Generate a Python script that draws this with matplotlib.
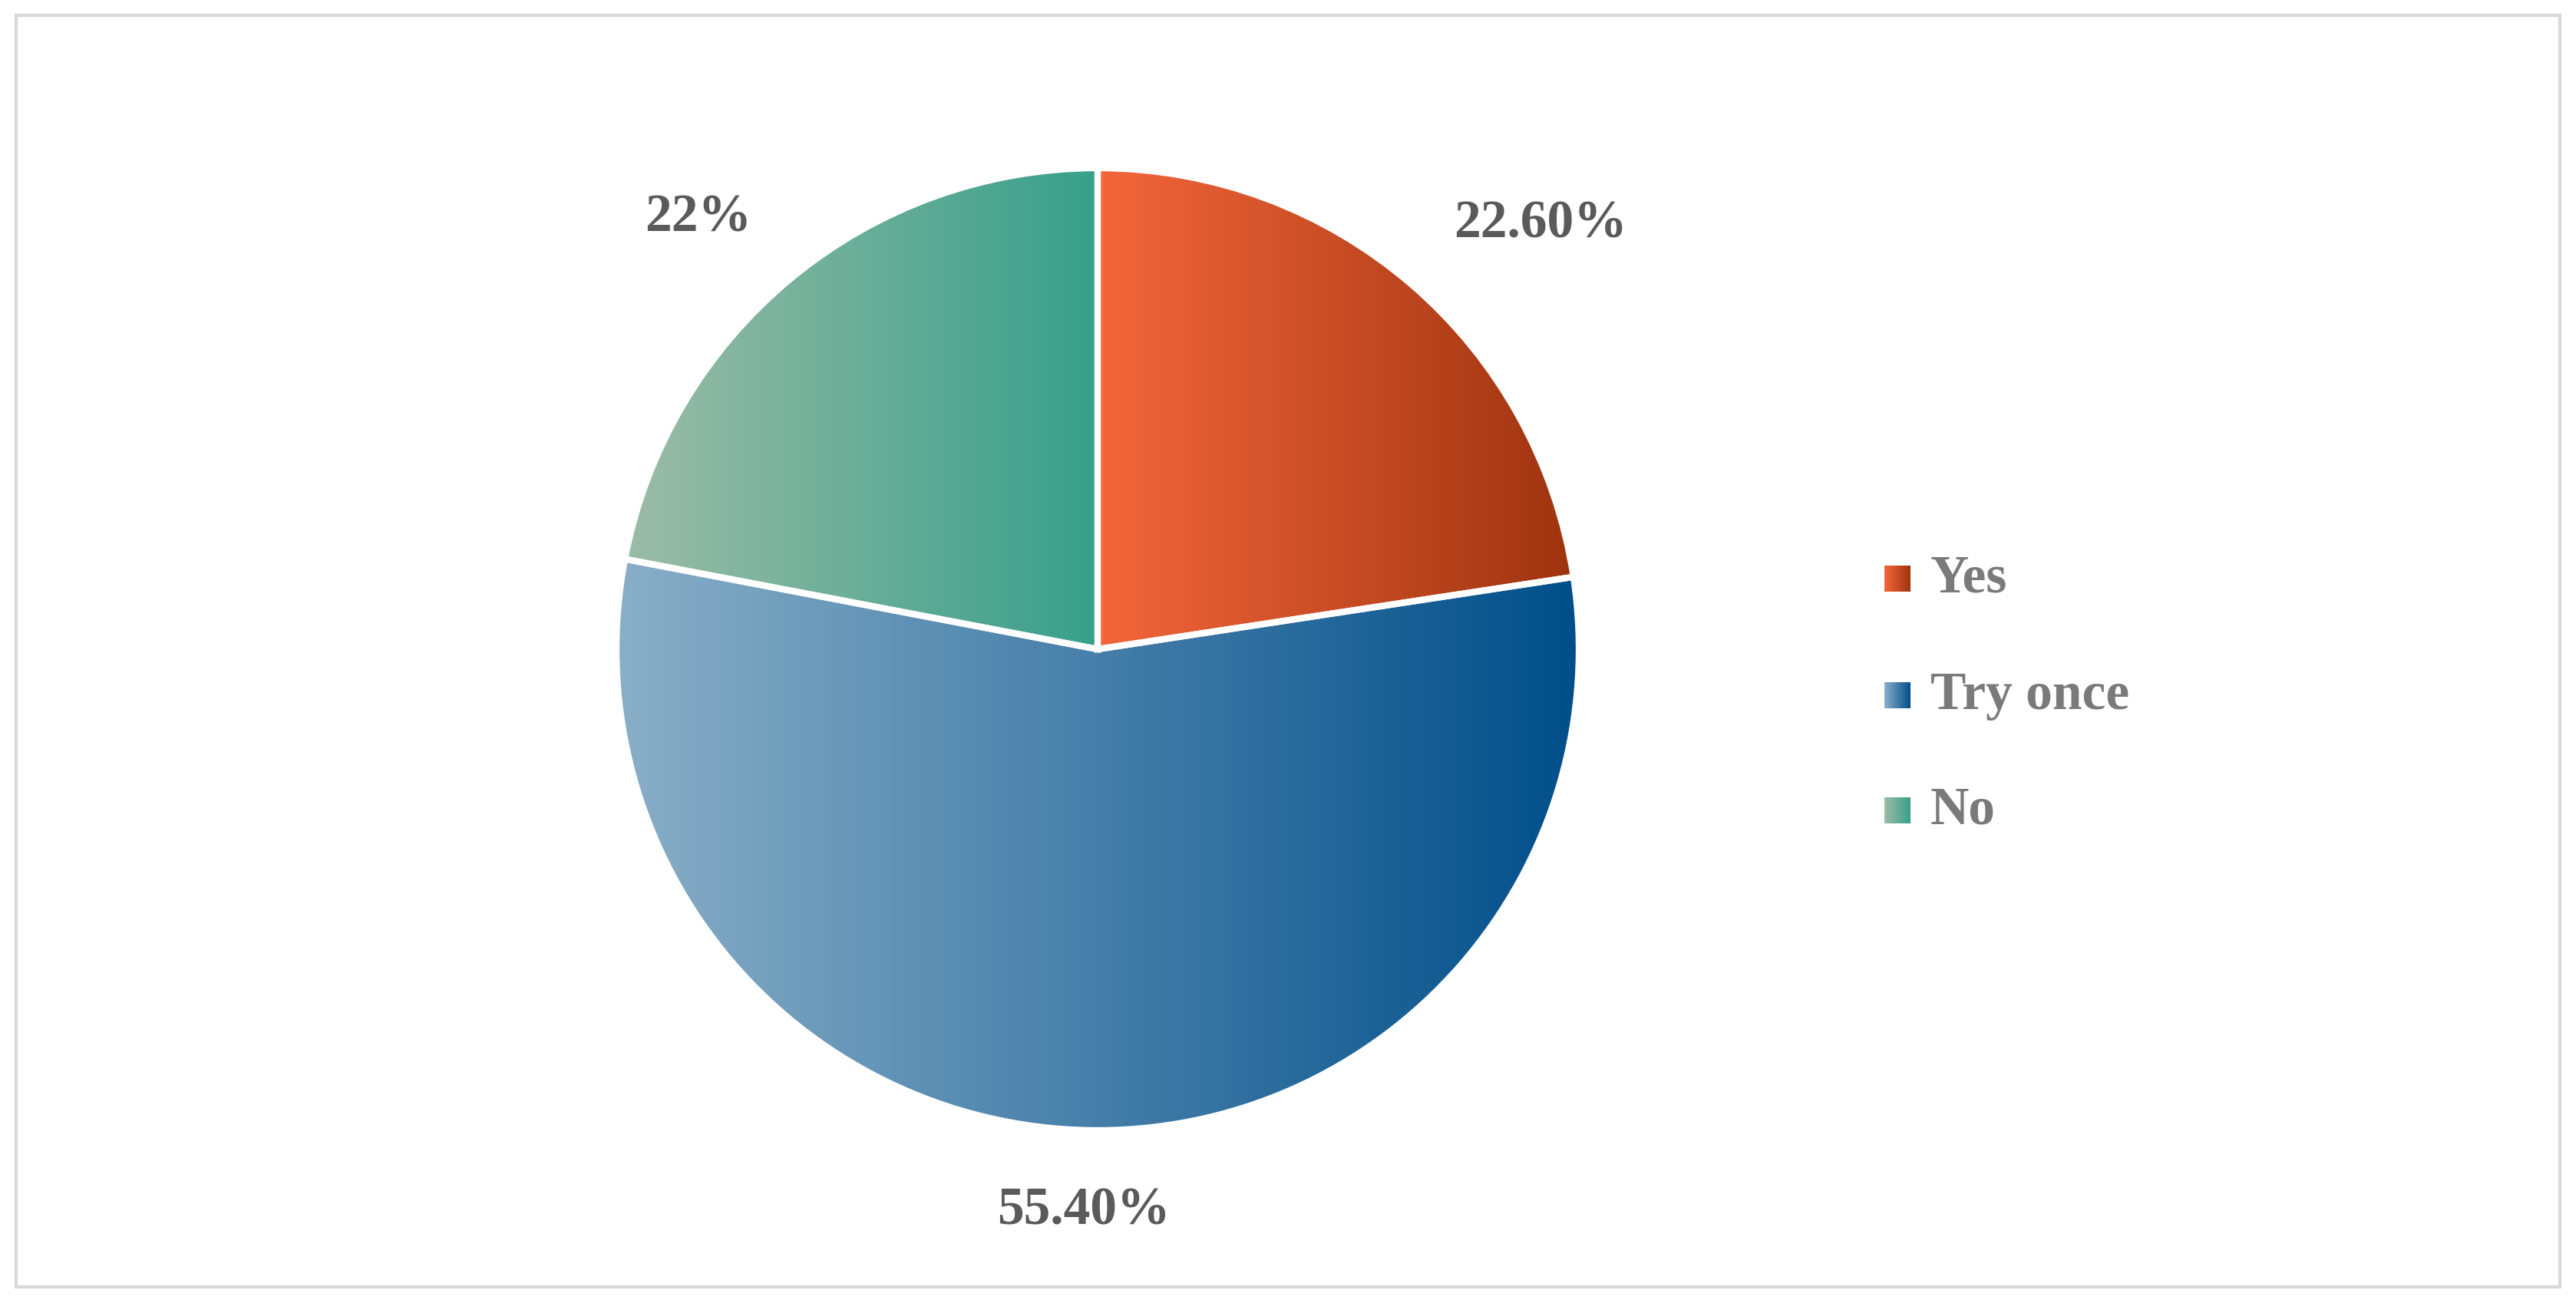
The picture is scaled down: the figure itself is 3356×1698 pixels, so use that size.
import numpy as np
import matplotlib.pyplot as plt
from matplotlib.colors import LinearSegmentedColormap
from matplotlib.patches import Rectangle

labels = ['Yes', 'Try once', 'No']
values = [22.6, 55.4, 22.0]
pct_text = ['22.60%', '55.40%', '22%']
# left -> right gradient colours per slice
grad = [('#f4663b', '#9e340f'), ('#8aafc8', '#004e8a'), ('#9cbca7', '#37a08a')]

W, H = 3356, 1699
fig = plt.figure(figsize=(W / 100, H / 100), dpi=100)
ax = fig.add_axes([0, 0, 1, 1])
ax.set_xlim(0, W)
ax.set_ylim(0, H)
ax.axis('off')

font = dict(family=['Liberation Serif', 'DejaVu Serif'], fontweight='bold')

cx, cy, r = 1430, 852, 627
wedges, _ = ax.pie(values, startangle=90, counterclock=False, center=(cx, cy), radius=r,
                   colors=['none'] * 3, wedgeprops=dict(edgecolor='white', linewidth=6),
                   frame=True)
ax.set_xlim(0, W)
ax.set_ylim(0, H)
ax.set_aspect('equal')

def gradient(x0, x1, y0, y1, c, clip=None, z=1):
    cmap = LinearSegmentedColormap.from_list('g', list(c))
    im = ax.imshow(np.linspace(0, 1, 256).reshape(1, -1), cmap=cmap, aspect='auto',
                   extent=(x0, x1, y0, y1), zorder=z, interpolation='bilinear')
    if clip is not None:
        im.set_clip_path(clip)

for w, c in zip(wedges, grad):
    w.set_zorder(3)
    verts = w.get_path().vertices
    tv = w.get_patch_transform().transform(verts)
    gradient(tv[:, 0].min(), tv[:, 0].max(), tv[:, 1].min(), tv[:, 1].max(), c, clip=w)

# percentage labels
pos = [(2007, 1406), (1412, 120), (910, 1414)]
for (x, y), t in zip(pos, pct_text):
    ax.text(x, y, t, ha='center', va='center', fontsize=50, color='#5a5a5a', **font)

# legend
leg_y = [944, 792, 642]
s = 34
for yy, lab, c in zip(leg_y, labels, grad):
    sq = Rectangle((2455, yy - s / 2), s, s, facecolor='none', edgecolor='none')
    ax.add_patch(sq)
    gradient(2455, 2455 + s, yy - s / 2, yy + s / 2, c, clip=sq, z=2)
    ax.text(2515, yy, lab, ha='left', va='center', fontsize=50, color='#7a7a7a', **font)

ax.add_patch(Rectangle((21, 21), W - 42, H - 42, fill=False, edgecolor='#d9d9d9', linewidth=3))

fig.savefig('out.png', dpi=100)
